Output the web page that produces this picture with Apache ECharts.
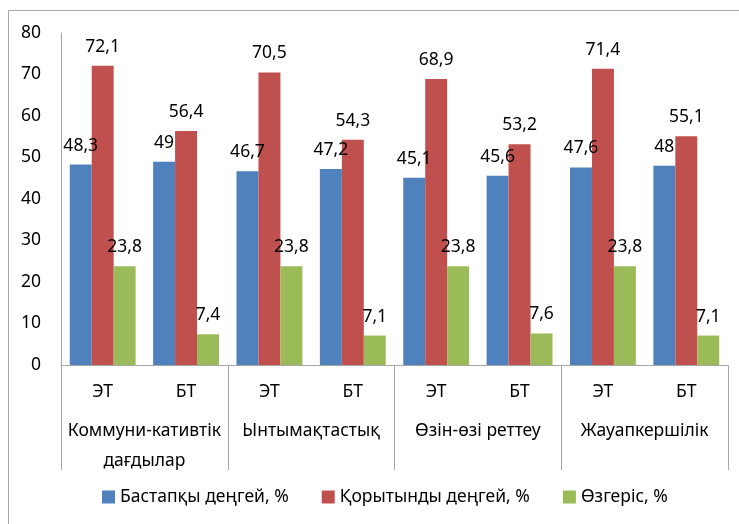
<!DOCTYPE html>
<html>
<head>
<meta charset="utf-8">
<script src="https://cdn.jsdelivr.net/npm/echarts@6/dist/echarts.min.js"></script>
<style>
html,body{margin:0;padding:0;background:#fff;}
#c{width:739px;height:524px;}
</style>
</head>
<body>
<div id="c"></div>
<script>
const subCategories = ['ЭТ','БТ','ЭТ','БТ','ЭТ','БТ','ЭТ','БТ'];
const groups = ['Коммуни-кативтік\nдағдылар','Ынтымақтастық','Өзін-өзі реттеу','Жауапкершілік'];
const seriesNames = ['Бастапқы деңгей, %','Қорытынды деңгей, %','Өзгеріс, %'];
const initialLevel = [48.3, 49, 46.7, 47.2, 45.1, 45.6, 47.6, 48];
const finalLevel = [72.1, 56.4, 70.5, 54.3, 68.9, 53.2, 71.4, 55.1];
const change = [23.8, 7.4, 23.8, 7.1, 23.8, 7.6, 23.8, 7.1];
const yTicks = {min: 0, max: 80, interval: 10};

const colors = ['#4F81BD','#C0504D','#9BBB59'];
const FONT = 'Noto Sans';
const txt = {fontFamily: FONT, fontSize: 17.5, color: '#000'};

const chart = echarts.init(document.getElementById('c'), null, {renderer: 'canvas'});
const mk = (name, data, i) => ({
  name, type: 'bar', data, xAxisIndex: 0,
  barGap: '0%', barCategoryGap: '21%',
  itemStyle: {color: colors[i]},
  label: {show: true, position: 'top', distance: 10, ...txt,
    formatter: p => String(p.value).replace('.', ',')}
});
chart.setOption({
  animation: false,
  graphic: [{type: 'rect', shape: {x: 8.5, y: 10.5, width: 760, height: 540},
    style: {fill: 'none', stroke: '#a6a6a6', lineWidth: 1}, silent: true, z: -1}],
  grid: {left: 61, right: 11, top: 33, bottom: 159},
  legend: {left: 97, top: 483, itemWidth: 13, itemHeight: 13, itemGap: 33,
    icon: 'rect', textStyle: txt, data: seriesNames},
  xAxis: [
    {type: 'category', data: subCategories, position: 'bottom',
     axisLine: {show: true, lineStyle: {color: '#a6a6a6'}},
     axisTick: {show: false},
     axisLabel: {...txt, margin: 18, interval: 0}},
    {type: 'category', data: groups, position: 'bottom',
     axisLine: {show: false},
     axisTick: {show: true, length: 105, interval: 0, lineStyle: {color: '#a6a6a6'}},
     axisLabel: {...txt, margin: 51, interval: 0, lineHeight: 30}}
  ],
  yAxis: {type: 'value', min: yTicks.min, max: yTicks.max, interval: yTicks.interval,
    axisLine: {show: true, lineStyle: {color: '#a6a6a6'}},
    axisTick: {show: false}, splitLine: {show: false},
    axisLabel: {...txt, margin: 20}},
  series: [mk(seriesNames[0], initialLevel, 0), mk(seriesNames[1], finalLevel, 1), mk(seriesNames[2], change, 2)]
});
</script>
</body>
</html>
